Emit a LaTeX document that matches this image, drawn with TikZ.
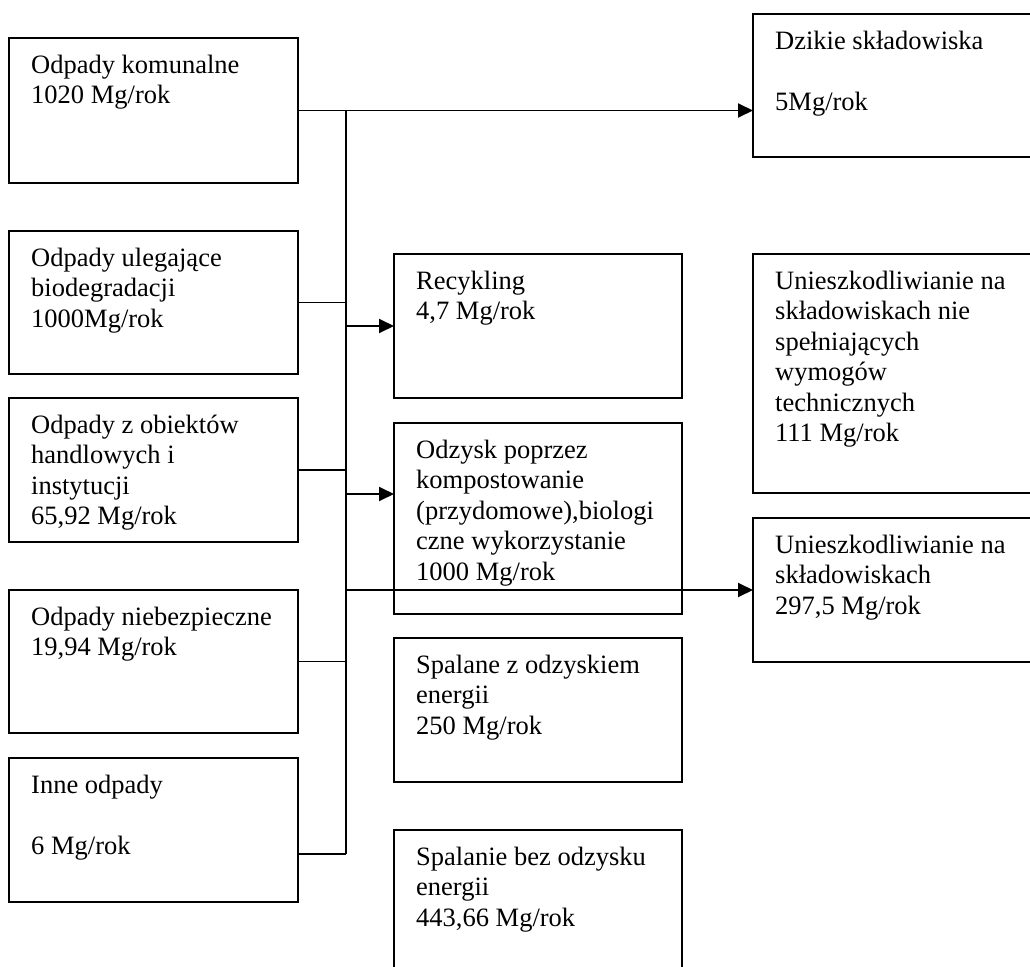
\documentclass[tikz,border=0pt]{standalone}
\usepackage{fontspec}
\setmainfont{Liberation Serif}
\usetikzlibrary{arrows.meta,calc}
\newcommand{\txtlines}[1]{\vtop{\baselineskip=30.5bp\lineskiplimit=-100bp\lineskip=0pt\halign{##\hfil\cr#1\crcr}}}
\begin{document}
\begin{tikzpicture}[x=1bp,y=-1bp,
  wbox/.style={draw, line width=1.9bp, inner sep=0pt, outer sep=0pt, anchor=north west},
  lbl/.style={anchor=base west, inner sep=0pt, font=\fontsize{26.5bp}{30.5bp}\selectfont},
  conn/.style={line width=1.9bp},
  arr/.style={conn, -{Triangle[length=15bp,width=14bp]}}]
\useasboundingbox (0,0) rectangle (1030,967);
\clip (0,0) rectangle (1030,967);
% left column
\node[wbox, minimum width=289bp, minimum height=145bp] (b1) at (9,38) {};
\node[wbox, minimum width=289bp, minimum height=143bp] (b2) at (9,231) {};
\node[wbox, minimum width=289bp, minimum height=144bp] (b3) at (9,398) {};
\node[wbox, minimum width=289bp, minimum height=143bp] (b4) at (9,590) {};
\node[wbox, minimum width=289bp, minimum height=144bp] (b5) at (9,758) {};
% middle column
\node[wbox, minimum width=288bp, minimum height=144bp] (r1) at (394,254) {};
\node[wbox, minimum width=288bp, minimum height=191bp] (r2) at (394,423) {};
\node[wbox, minimum width=288bp, minimum height=144bp] (r3) at (394,638) {};
\node[wbox, minimum width=288bp, minimum height=160bp] (r4) at (394,830) {};
% right column
\node[wbox, minimum width=290bp, minimum height=143bp] (d1) at (753,14) {};
\node[wbox, minimum width=290bp, minimum height=239bp] (u1) at (753,254) {};
\node[wbox, minimum width=290bp, minimum height=144bp] (u2) at (753,518) {};
% texts
\node[lbl] (t1) at ($(b1.north west)+(22,35)$) {\txtlines{Odpady komunalne\cr 1020 Mg/rok}};
\node[lbl] (t2) at ($(b2.north west)+(22,35)$) {\txtlines{Odpady ulegające\cr biodegradacji\cr 1000Mg/rok}};
\node[lbl] (t3) at ($(b3.north west)+(22,35)$) {\txtlines{Odpady z obiektów\cr handlowych i\cr instytucji\cr 65,92 Mg/rok}};
\node[lbl] (t4) at ($(b4.north west)+(22,35)$) {\txtlines{Odpady niebezpieczne\cr 19,94 Mg/rok}};
\node[lbl] (t5) at ($(b5.north west)+(22,35)$) {\txtlines{Inne odpady\cr\cr 6 Mg/rok}};
\node[lbl] (tr1) at ($(r1.north west)+(22,35)$) {\txtlines{Recykling\cr 4,7 Mg/rok}};
\node[lbl] (tr2) at ($(r2.north west)+(22,35)$) {\txtlines{Odzysk poprzez\cr kompostowanie\cr (przydomowe),biologi\cr czne wykorzystanie\cr 1000 Mg/rok}};
\node[lbl] (tr3) at ($(r3.north west)+(22,35)$) {\txtlines{Spalane z odzyskiem\cr energii\cr 250 Mg/rok}};
\node[lbl] (tr4) at ($(r4.north west)+(22,35)$) {\txtlines{Spalanie bez odzysku\cr energii\cr 443,66 Mg/rok}};
\node[lbl] (td1) at ($(d1.north west)+(22,35)$) {\txtlines{Dzikie składowiska\cr\cr 5Mg/rok}};
\node[lbl] (tu1) at ($(u1.north west)+(22,35)$) {\txtlines{Unieszkodliwianie na\cr składowiskach nie\cr spełniających\cr wymogów\cr technicznych\cr 111 Mg/rok}};
\node[lbl] (tu2) at ($(u2.north west)+(22,35)$) {\txtlines{Unieszkodliwianie na\cr składowiskach\cr 297,5 Mg/rok}};
% bus
\coordinate (bustop) at (346,110.5);
\coordinate (busbot) at (346,854);
\coordinate (a1) at (346,326);
\coordinate (a2) at (346,494);
\coordinate (a3) at (346,590);
\draw[conn] (bustop) -- (busbot);
\draw[arr] (b1.east) -- (b1.east -| d1.west);
\draw[conn] (b2.east) -- (b2.east -| bustop);
\draw[conn] (b3.east) -- (b3.east -| bustop);
\draw[conn] (b4.east) -- (b4.east -| bustop);
\draw[conn] (b5.east |- busbot) -- (busbot);
\draw[arr] (a1) -- (a1 -| r1.west);
\draw[arr] (a2) -- (a2 -| r2.west);
\draw[arr] (a3) -- (a3 -| u2.west);
\end{tikzpicture}
\end{document}
